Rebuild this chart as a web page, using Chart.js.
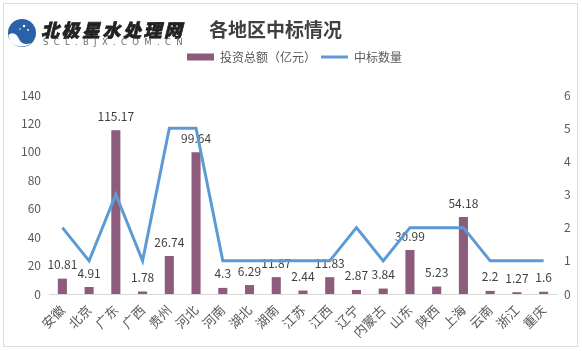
<!DOCTYPE html>
<html><head><meta charset="utf-8">
<script src="https://cdn.jsdelivr.net/npm/chart.js@4"></script>
<style>
html,body{margin:0;padding:0;background:#fff;}
#wrap{position:relative;width:582px;height:351px;overflow:hidden;font-family:"Noto Sans CJK SC","Noto Sans",sans-serif;}
#frame{position:absolute;left:3px;top:3px;width:575px;height:344px;border:1px solid #dcdcdc;box-sizing:border-box;}
#c{position:absolute;left:0;top:0;}
#logo{position:absolute;left:7px;top:18px;}
#brand{position:absolute;left:41px;top:20px;font-size:18px;line-height:18px;font-weight:900;color:#222;letter-spacing:2.5px;font-style:italic;white-space:nowrap;-webkit-text-stroke:0.7px #222;}
#url{position:absolute;left:43px;top:38px;font-family:"DejaVu Sans",sans-serif;font-size:8.5px;line-height:9px;letter-spacing:5.3px;color:#6b6b6b;white-space:nowrap;}
#title{position:absolute;left:209px;top:19px;font-size:19px;line-height:19px;font-weight:bold;color:#404040;white-space:nowrap;}
</style>
</head>
<body>
<div id="wrap">
  <div id="frame"></div>
  <canvas id="c" width="582" height="351"></canvas>
  <svg id="logo" width="30" height="30" viewBox="0 0 30 30">
    <circle cx="15" cy="15" r="14" fill="#2a62a9"/>
    <path d="M1.5 17 C6 13, 10 16, 12 21 C14 26, 19 27, 24 25 C20 30, 8 30, 3 23 Z" fill="#ffffff"/>
    <circle cx="17" cy="8" r="1.3" fill="#fff"/>
    <circle cx="21" cy="12" r="0.9" fill="#fff"/>
    <circle cx="13" cy="11" r="0.8" fill="#fff"/>
  </svg>
  <div id="brand">北极星水处理网</div>
  <div id="url">SCL.BJX.COM.CN</div>
  <div id="title">各地区中标情况</div>
</div>
<script>
// ---- data ----
const categories = ['安徽','北京','广东','广西','贵州','河北','河南','湖北','湖南','江苏','江西','辽宁','内蒙古','山东','陕西','上海','云南','浙江','重庆'];
const investment = [10.81, 4.91, 115.17, 1.78, 26.74, 99.64, 4.3, 6.29, 11.87, 2.44, 11.83, 2.87, 3.84, 30.99, 5.23, 54.18, 2.2, 1.27, 1.6];
const bidCount   = [2, 1, 3, 1, 5, 5, 1, 1, 1, 1, 1, 2, 1, 2, 2, 2, 1, 1, 1];
const seriesNames = ['投资总额（亿元）', '中标数量'];
const leftAxisMax = 140, leftAxisStep = 20;
const rightAxisMax = 6, rightAxisStep = 1;

const FONT = '"Noto Sans CJK SC", "Noto Sans", sans-serif';
const TXT = '#595959';

const legendGap = {
  id: 'legendGap',
  beforeInit(chart) {
    const lg = chart.legend;
    if (!lg) return;
    const orig = lg.fit;
    lg.fit = function () { orig.call(this); this.height = 49; };
  }
};

const barLabels = {
  id: 'barLabels',
  afterDatasetDraw(chart, args) {
    if (args.index !== 0) return;
    const ctx = chart.ctx;
    ctx.save();
    ctx.font = '12px ' + FONT;
    ctx.fillStyle = '#404040';
    ctx.textAlign = 'center';
    ctx.textBaseline = 'bottom';
    args.meta.data.forEach((el, i) => {
      ctx.fillText(String(investment[i]), el.x, el.y - 8);
    });
    ctx.restore();
  }
};

new Chart(document.getElementById('c'), {
  type: 'bar',
  data: {
    labels: categories,
    datasets: [
      {
        type: 'bar', label: seriesNames[0], data: investment,
        backgroundColor: '#8D5C7C', borderWidth: 0, yAxisID: 'y', order: 1,
        barPercentage: 0.34, categoryPercentage: 1, pointStyle: 'rect'
      },
      {
        type: 'line', label: seriesNames[1], data: bidCount,
        borderColor: '#5B9BD5', backgroundColor: '#5B9BD5', borderWidth: 3,
        pointRadius: 0, pointHoverRadius: 0, tension: 0, yAxisID: 'y1', order: 0,
        pointStyle: 'line', borderJoinStyle: 'miter'
      }
    ]
  },
  options: {
    responsive: false,
    animation: false,
    layout: { padding: { left: 12, right: 5, top: 46, bottom: 0 } },
    plugins: {
      legend: {
        labels: {
          usePointStyle: true, pointStyleWidth: 27, boxHeight: 7, padding: 5,
          color: TXT, font: { size: 12, family: FONT },
          sort: (a, b) => a.datasetIndex - b.datasetIndex
        }
      },
      tooltip: { enabled: false }
    },
    scales: {
      x: {
        grid: { display: true, drawOnChartArea: false, drawTicks: false },
        border: { display: true, color: '#d9d9d9', width: 1 },
        ticks: { color: TXT, font: { size: 13, family: FONT }, minRotation: 45, maxRotation: 45, autoSkip: false, padding: 8 },
        afterFit: s => { s.height = 57; }
      },
      y: {
        position: 'left', min: 0, max: leftAxisMax,
        ticks: { stepSize: leftAxisStep, color: TXT, font: { size: 12, family: FONT }, padding: 8 },
        grid: { display: false, drawTicks: false }, border: { display: false },
        afterFit: s => { s.width = 37; }
      },
      y1: {
        position: 'right', min: 0, max: rightAxisMax,
        ticks: { stepSize: rightAxisStep, color: TXT, font: { size: 12, family: FONT }, padding: 7 },
        grid: { display: false, drawTicks: false }, border: { display: false },
        afterFit: s => { s.width = 20; }
      }
    }
  },
  plugins: [legendGap, barLabels]
});
</script>
</body></html>
